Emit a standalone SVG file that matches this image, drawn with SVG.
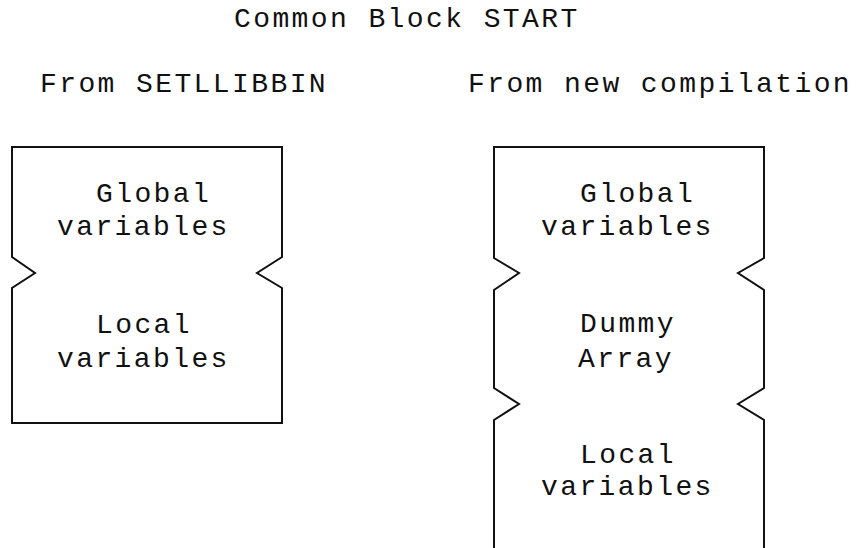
<svg xmlns="http://www.w3.org/2000/svg" width="856" height="548" viewBox="0 0 856 548">
<style>
text{font-family:"Liberation Mono","DejaVu Sans Mono",monospace;font-size:28px;letter-spacing:2.4px;fill:#111}
.box{fill:none;stroke:#111;stroke-width:2;stroke-linejoin:miter}
</style>
<rect width="856" height="548" fill="#fff"/>
<g id="headings">
<text x="234" y="27">Common Block START</text>
<text x="40" y="92">From SETLLIBBIN</text>
<text x="468" y="92">From new compilation</text>
</g>
<g id="setllibbin-block">
<path class="box" d="M12,147 H282 V257 L257,273 L282,288 V423 H12 V288 L35,273 L12,257 Z"/>
<text x="96" y="202">Global</text>
<text x="57" y="235">variables</text>
<text x="96" y="333">Local</text>
<text x="57" y="367">variables</text>
</g>
<g id="new-compilation-block">
<path class="box" d="M494,548 V420 L519,404 L494,388 V290 L519,273 L494,258 V147 H764 V258 L738,273 L764,290 V388 L738,404 L764,420 V548"/>
<text x="580" y="202">Global</text>
<text x="541" y="235">variables</text>
<text x="580" y="332">Dummy</text>
<text x="578" y="367">Array</text>
<text x="580" y="463">Local</text>
<text x="541" y="495">variables</text>
</g>
</svg>
